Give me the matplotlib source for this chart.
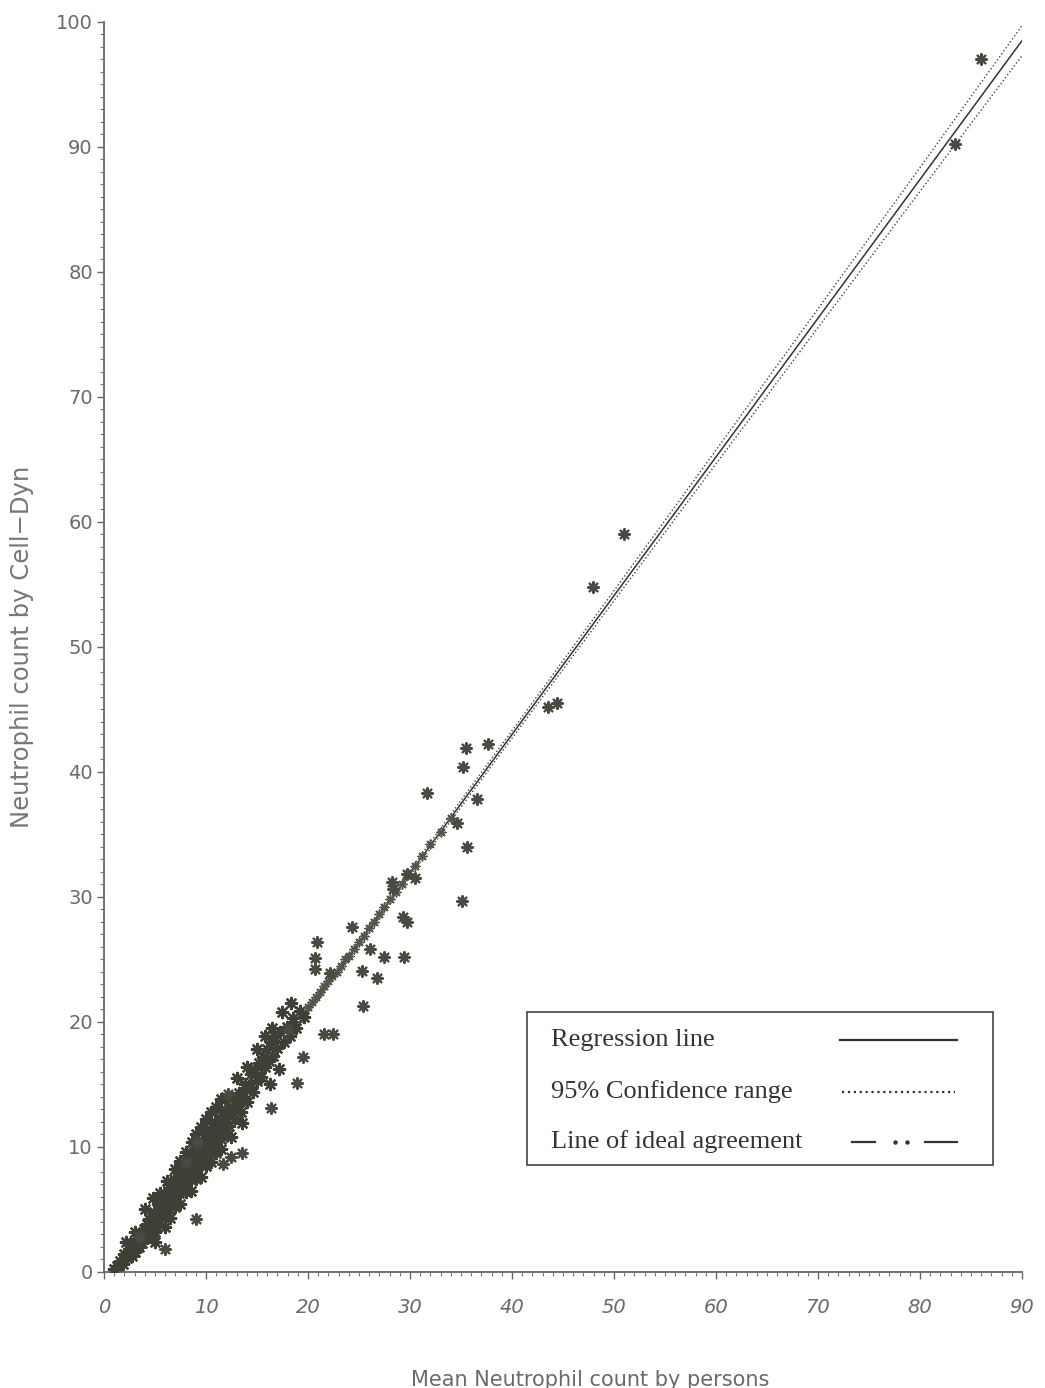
import matplotlib
matplotlib.use("Agg")
import matplotlib.pyplot as plt
from matplotlib.lines import Line2D
from matplotlib.patches import Rectangle
from matplotlib.ticker import MultipleLocator

# dense group of samples close to the regression line (mean by persons, Cell-Dyn)
cluster = [
    (1.0, 0.2), (1.3, 0.5), (1.6, 0.9), (1.9, 0.6), (2.0, 1.4), (2.3, 1.1), (2.5, 1.8),
    (2.7, 1.3), (2.9, 2.2), (3.0, 1.6), (3.2, 2.6), (3.4, 2.0), (2.2, 2.4), (3.0, 3.2),
    (3.6, 3.0), (3.7, 2.3), (3.9, 3.4), (4.0, 2.7), (4.2, 3.8), (4.3, 3.1), (4.4, 4.2),
    (4.5, 3.4), (4.6, 2.8), (4.7, 4.3), (4.8, 3.7), (4.9, 4.8), (5.0, 4.0), (5.0, 3.2),
    (4.0, 5.0), (4.8, 5.9), (5.0, 2.4), (6.0, 3.6),
    (5.2, 4.6), (5.3, 5.4), (5.4, 3.8), (5.5, 5.0), (5.6, 4.3), (5.7, 5.7), (5.8, 4.9),
    (5.9, 6.0), (6.0, 5.3), (6.0, 4.4), (5.5, 6.3), (6.5, 4.3),
    (6.2, 5.8), (6.3, 6.5), (6.4, 5.0), (6.5, 6.1), (6.6, 7.0), (6.7, 5.6), (6.8, 6.6),
    (6.9, 7.4), (7.0, 6.0), (7.0, 5.2), (6.2, 7.3), (7.0, 8.2), (7.5, 5.4),
    (7.2, 6.8), (7.3, 7.6), (7.4, 6.3), (7.5, 7.2), (7.6, 8.1), (7.7, 6.8), (7.8, 7.7),
    (7.9, 8.6), (8.0, 7.2), (8.0, 6.4), (7.5, 8.9), (8.0, 9.6), (8.5, 6.5),
    (8.2, 8.0), (8.3, 8.8), (8.4, 7.4), (8.5, 8.5), (8.6, 9.3), (8.7, 7.9), (8.8, 8.9),
    (8.9, 9.8), (9.0, 8.3), (9.0, 7.4), (8.6, 10.4), (9.0, 11.0), (9.5, 7.6),
    (9.2, 9.1), (9.3, 10.0), (9.4, 8.6), (9.5, 9.6), (9.6, 10.5), (9.7, 9.0), (9.8, 10.1),
    (9.9, 11.0), (10.0, 9.4), (10.0, 8.5), (9.5, 11.6), (10.0, 12.2), (10.5, 8.8),
    (10.2, 10.3), (10.3, 11.2), (10.4, 9.6), (10.5, 10.7), (10.6, 11.6), (10.7, 10.0),
    (10.8, 11.1), (10.9, 12.0), (11.0, 10.4), (11.0, 9.5), (10.5, 12.8), (11.0, 13.2),
    (11.2, 11.3), (11.4, 12.3), (11.5, 10.6), (11.6, 11.8), (11.8, 12.8), (11.9, 11.2),
    (11.5, 13.8), (11.5, 9.8), (12.0, 14.0), (12.5, 10.8),
    (12.0, 12.4), (12.2, 13.2), (12.3, 11.7), (12.5, 12.9), (12.6, 13.9), (12.8, 12.3),
    (13.0, 13.4), (13.2, 14.3), (13.4, 12.8), (13.6, 14.0), (13.8, 15.0), (14.0, 13.6),
    (13.0, 15.5), (14.0, 16.4), (13.5, 11.9),
    (14.2, 14.8), (14.4, 15.8), (14.6, 14.4), (14.8, 16.2), (15.0, 15.3), (15.0, 17.8),
    (15.2, 16.7), (15.4, 15.6), (15.6, 17.2), (15.8, 16.4), (16.0, 17.8), (16.2, 16.9),
    (16.4, 18.4), (16.6, 17.3), (16.8, 18.8), (15.8, 18.9), (16.5, 19.5), (16.3, 15.0),
    (17.0, 17.9), (17.3, 19.2), (17.6, 18.4), (17.9, 19.6), (18.2, 18.9), (18.5, 20.3),
    (18.8, 19.5), (19.2, 20.9), (19.6, 20.4), (17.5, 20.8), (18.3, 21.5), (17.2, 16.2),
]

# samples lying along the line between 20 and 34
line_group = [
    (20.0, 21.2), (20.4, 21.6), (20.8, 22.0), (21.2, 22.4), (21.6, 22.9), (22.0, 23.3),
    (22.4, 23.7), (22.8, 24.0), (23.2, 24.5), (23.6, 25.0), (24.0, 25.3), (24.5, 25.8),
    (25.0, 26.4), (25.5, 26.9), (26.0, 27.5), (26.5, 28.0), (27.0, 28.6), (27.5, 29.2),
    (28.0, 29.8), (28.6, 30.4), (29.2, 31.0), (29.8, 31.8), (30.5, 32.5), (31.2, 33.3),
    (32.0, 34.2), (33.0, 35.2), (34.0, 36.3),
]

# samples further away from the line
spread = [
    (86.0, 97.0), (83.4, 90.2), (51.0, 59.0), (47.9, 54.8), (43.5, 45.2), (44.4, 45.5),
    (35.5, 41.9), (37.6, 42.2), (35.2, 40.4), (31.7, 38.3), (36.6, 37.8), (34.6, 35.9),
    (35.6, 34.0), (35.1, 29.7), (28.2, 31.2), (28.3, 30.6), (29.7, 31.8), (30.5, 31.5),
    (29.3, 28.4), (29.7, 28.0), (29.4, 25.2), (27.5, 25.2), (26.8, 23.5), (25.4, 21.3),
    (25.3, 24.1), (26.1, 25.8), (24.3, 27.6), (20.9, 26.4), (20.7, 25.1), (20.7, 24.2),
    (22.2, 23.9), (21.6, 19.0), (22.5, 19.0), (19.5, 17.2), (18.0, 19.4), (18.9, 15.1),
    (16.4, 13.1), (12.2, 14.2), (9.1, 10.4), (12.5, 9.2), (13.5, 9.5), (11.7, 8.6),
    (8.0, 8.8), (9.0, 4.2), (6.0, 1.8), (3.4, 2.8),
]

# regression line and its 95% confidence band
reg_x = [0, 90]
reg_y = [-1.4, 98.5]
ci_x = [0, 10, 20, 30, 40, 50, 60, 70, 80, 90]
ci_upper = [-1.1, 9.9, 21.0, 32.15, 43.3, 54.5, 65.75, 77.05, 88.35, 99.7]
ci_lower = [-1.7, 9.5, 20.6, 31.65, 42.7, 53.7, 64.65, 75.55, 86.45, 97.3]

legend_labels = ["Regression line", "95% Confidence range", "Line of ideal agreement"]

fig = plt.figure(figsize=(10.45, 13.88), dpi=100)
ax = fig.add_axes([0.0995, 0.0836, 0.8785, 0.9006])

ink = "#3f3f35"
ax.scatter([p[0] for p in cluster], [p[1] for p in cluster], marker=(8, 2, 0),
           s=65, linewidths=1.7, color=ink, zorder=3)
ax.scatter([p[0] for p in line_group], [p[1] for p in line_group], marker=(8, 2, 0),
           s=40, linewidths=1.1, color="#55554a", zorder=3)
ax.scatter([p[0] for p in spread], [p[1] for p in spread], marker=(8, 2, 0),
           s=60, linewidths=1.6, color="#4a4a40", zorder=3)

ax.plot(reg_x, reg_y, color="#333333", lw=1.1, zorder=2)
ax.plot(ci_x, ci_upper, color="#444444", lw=1.0, ls=":", zorder=2)
ax.plot(ci_x, ci_lower, color="#444444", lw=1.0, ls=":", zorder=2)

ax.set_xlim(0, 90)
ax.set_ylim(0, 100)
ax.xaxis.set_major_locator(MultipleLocator(10))
ax.yaxis.set_major_locator(MultipleLocator(10))
ax.xaxis.set_minor_locator(MultipleLocator(1))
ax.yaxis.set_minor_locator(MultipleLocator(1))

for side in ["top", "right"]:
    ax.spines[side].set_visible(False)
for side in ["left", "bottom"]:
    ax.spines[side].set_color("#666666")
    ax.spines[side].set_linewidth(1.3)

ax.tick_params(which="major", length=5, width=1, color="#666666",
               labelsize=14, labelcolor="#6a6a6a")
ax.tick_params(which="minor", length=3, width=0.8, color="#777777")
ax.tick_params(axis="x", which="major", pad=14)
ax.tick_params(axis="y", which="major", pad=3)
for lab in ax.get_xticklabels():
    lab.set_style("italic")

ax.set_ylabel("Neutrophil count by Cell\u2212Dyn", fontsize=17.5, color="#777777", labelpad=16)
fig.text(0.565, 0.006, "Mean Neutrophil count by persons", fontsize=15,
         color="#6a6a6a", ha="center", va="center")

# legend box drawn in axes coordinates
ax.add_patch(Rectangle((0.461, 0.0856), 0.507, 0.1224, transform=ax.transAxes,
                       fill=False, edgecolor="#444444", lw=1.2, zorder=5))
rows_y = [0.1856, 0.144, 0.104]
leg_kw = dict(transform=ax.transAxes, color="#333333", lw=1.6)
for label, y in zip(legend_labels, rows_y):
    ax.text(0.487, y, label, transform=ax.transAxes, fontsize=19,
            family="Liberation Serif", color="#333333", va="center", ha="left")
ax.add_line(Line2D([0.802, 0.929], [rows_y[0]] * 2, ls="-", **leg_kw))
ax.add_line(Line2D([0.804, 0.927], [rows_y[1]] * 2, ls=":", **leg_kw))
ax.add_line(Line2D([0.815, 0.840], [rows_y[2]] * 2, ls="-", **leg_kw))
ax.add_line(Line2D([0.862, 0.875], [rows_y[2]] * 2, ls="none", marker="o",
                   markersize=2.2, transform=ax.transAxes, color="#333333"))
ax.add_line(Line2D([0.894, 0.929], [rows_y[2]] * 2, ls="-", **leg_kw))

fig.savefig("out.png", dpi=100)
